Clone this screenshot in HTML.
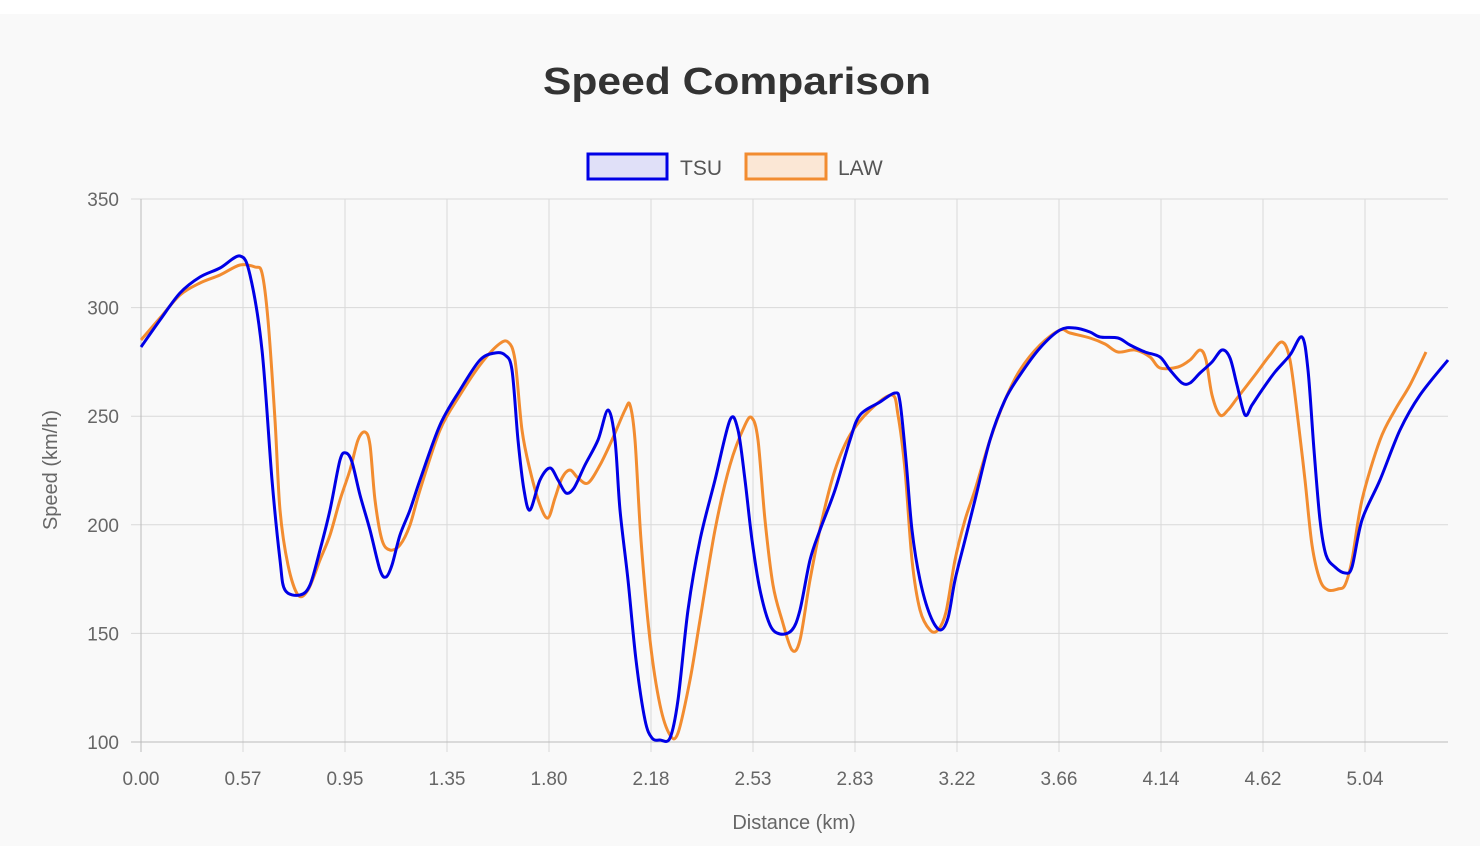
<!DOCTYPE html>
<html><head><meta charset="utf-8"><style>
html,body{margin:0;padding:0;background:#fff;}
svg{display:block;}
text{font-family:"Liberation Sans",sans-serif;}
</style></head><body>
<svg id="s" width="1480" height="846" xmlns="http://www.w3.org/2000/svg">
<rect x="0" y="14" width="1480" height="832" fill="#f9f9f9"/>
<text x="737" y="94" text-anchor="middle" font-size="38" font-weight="bold" fill="#333" textLength="388" lengthAdjust="spacingAndGlyphs">Speed Comparison</text>
<rect x="588" y="154" width="79" height="25" fill="#e0e0f8" stroke="#0000e6" stroke-width="3"/>
<text x="680" y="175" font-size="21" fill="#555">TSU</text>
<rect x="746" y="154" width="80" height="25" fill="#fbe7d5" stroke="#f28c30" stroke-width="3"/>
<text x="838" y="175" font-size="21" fill="#555">LAW</text>
<g id="grid" stroke="#d9d9d9" stroke-width="1"></g>
<g id="lab" font-size="19" fill="#666"></g>
<text x="794" y="829" text-anchor="middle" font-size="20" fill="#666">Distance (km)</text>
<text transform="translate(57,470) rotate(-90)" text-anchor="middle" font-size="20" fill="#666">Speed (km/h)</text>
<path id="law" fill="none" stroke="#f28c30" stroke-width="3"/>
<path id="tsu" fill="none" stroke="#0000e6" stroke-width="3"/>
</svg>
<script>
var NS="http://www.w3.org/2000/svg",g=document.getElementById('grid'),lab=document.getElementById('lab');
function el(p,t,a,txt){var e=document.createElementNS(NS,t);for(var k in a)e.setAttribute(k,a[k]);if(txt)e.textContent=txt;p.appendChild(e);}
var xl=["0.00","0.57","0.95","1.35","1.80","2.18","2.53","2.83","3.22","3.66","4.14","4.62","5.04"];
for(var i=0;i<13;i++){var x=141+102*i;el(g,'line',{x1:x,x2:x,y1:199,y2:752});el(lab,'text',{x:x,y:785,'text-anchor':'middle'},xl[i]);}
for(var j=0;j<6;j++){var y=199+j*108.6;el(g,'line',{x1:131,x2:1448,y1:y,y2:y});el(lab,'text',{x:119,y:y+7,'text-anchor':'end'},String(350-50*j));}
el(g,'line',{x1:141,x2:141,y1:199,y2:752,stroke:'#bbb'});el(g,'line',{x1:131,x2:1448,y1:742,y2:742,stroke:'#bbb'});
function path(p){var d="M"+p[0][0]+","+p[0][1];for(var i=0;i<p.length-1;i++){var a=p[i-1]||p[i],b=p[i],c=p[i+1],e=p[i+2]||c;var t=0.16;d+=" C"+(b[0]+(c[0]-a[0])*t)+","+(b[1]+(c[1]-a[1])*t)+" "+(c[0]-(e[0]-b[0])*t)+","+(c[1]-(e[1]-b[1])*t)+" "+c[0]+","+c[1];}return d;}
var T=[[141,347],[160,320],[180,293],[200,277],[220,268],[240,256],[250,275],[262,350],[272,480],[280,560],[285,590],[300,595],[310,585],[320,550],[330,510],[340,460],[346,453],[352,462],[360,495],[370,530],[380,570],[386,577],[392,565],[400,535],[410,510],[420,480],[440,425],[460,390],[480,360],[495,353],[505,355],[512,370],[518,440],[524,490],[530,510],[540,480],[550,468],[558,480],[566,493],[574,488],[585,465],[598,440],[608,410],[615,440],[620,510],[628,580],[636,660],[645,720],[652,738],[660,740],[670,738],[678,700],[688,610],[700,540],[715,480],[730,420],[738,430],[745,480],[752,540],[760,590],[770,625],[780,634],[792,630],[800,610],[810,560],[820,530],[835,490],[850,440],[860,415],[880,402],[895,393],[900,402],[906,460],[912,530],[920,580],[930,615],[940,630],[948,618],[955,580],[965,540],[975,500],[990,440],[1005,400],[1020,375],[1040,348],[1060,330],[1075,328],[1090,332],[1100,337],[1118,338],[1130,345],[1145,352],[1160,357],[1170,370],[1182,383],[1190,383],[1200,373],[1212,362],[1222,350],[1230,358],[1237,385],[1245,415],[1252,405],[1262,390],[1275,372],[1290,355],[1302,337],[1308,370],[1314,450],[1320,520],[1326,555],[1335,567],[1345,573],[1352,567],[1362,520],[1380,480],[1400,430],[1420,395],[1448,360]];
var L=[[141,340],[160,318],[180,295],[200,283],[220,275],[240,265],[255,267],[262,273],[268,320],[275,420],[280,510],[288,565],[298,595],[308,590],[320,560],[330,535],[340,500],[350,470],[358,440],[365,432],[370,445],[375,500],[382,540],[390,550],[400,545],[410,525],[420,490],[440,430],[460,395],[480,365],[498,345],[508,342],[515,360],[522,430],[530,470],[540,505],[548,518],[555,498],[562,478],[570,470],[578,478],[588,483],[600,465],[612,440],[625,410],[630,405],[635,440],[641,540],[650,640],[660,705],[670,735],[678,733],[690,680],[700,620],[715,530],[730,465],[745,425],[752,418],[758,440],[765,520],[773,585],[782,620],[792,650],[800,640],[810,580],[822,520],[835,470],[850,435],[870,410],[892,395],[898,415],[905,470],[912,560],[920,610],[930,630],[938,630],[946,612],[955,560],[965,520],[975,490],[990,440],[1005,400],[1020,370],[1040,345],[1060,330],[1070,333],[1090,338],[1105,344],[1118,352],[1135,350],[1150,357],[1160,368],[1178,367],[1190,360],[1200,350],[1206,360],[1212,395],[1220,415],[1228,410],[1238,397],[1255,375],[1270,355],[1282,342],[1290,360],[1298,420],[1305,480],[1312,545],[1320,580],[1328,590],[1338,589],[1345,585],[1352,560],[1362,500],[1380,440],[1395,410],[1410,385],[1426,352]];
document.getElementById('tsu').setAttribute('d',path(T));
document.getElementById('law').setAttribute('d',path(L));
</script>
</body></html>
